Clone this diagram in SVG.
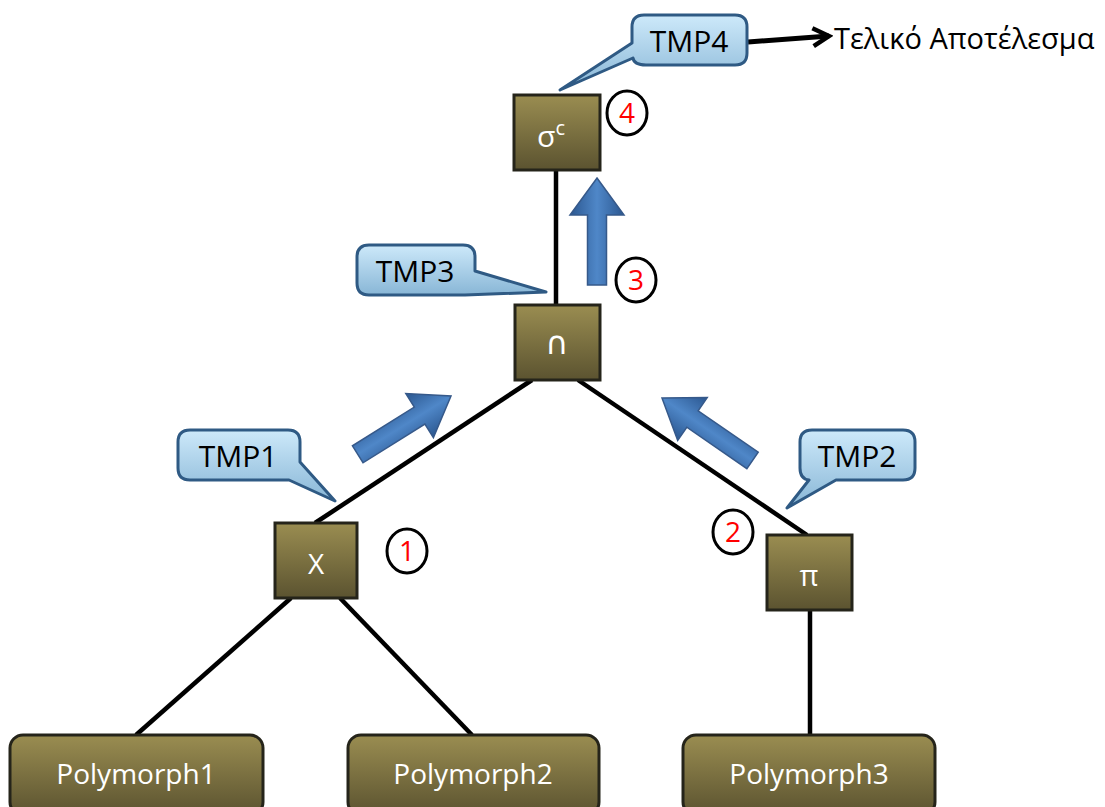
<svg xmlns="http://www.w3.org/2000/svg" width="1105" height="807" viewBox="0 0 1105 807">
<defs>
<linearGradient id="boxg" x1="0" y1="0" x2="0" y2="1">
<stop offset="0" stop-color="#9a8d51"/>
<stop offset="1" stop-color="#5b5330"/>
</linearGradient>
<linearGradient id="callg" x1="0" y1="0" x2="0" y2="1">
<stop offset="0" stop-color="#cde9fa"/>
<stop offset="1" stop-color="#88b6d6"/>
</linearGradient>
<linearGradient id="arrgh" x1="0" y1="0" x2="0" y2="1" gradientUnits="objectBoundingBox">
<stop offset="0" stop-color="#2b5790"/>
<stop offset="0.5" stop-color="#4f87c8"/>
<stop offset="1" stop-color="#2b5790"/>
</linearGradient>
<marker id="chev" viewBox="0 0 24 24" refX="20" refY="12" markerWidth="24" markerHeight="24" markerUnits="userSpaceOnUse" orient="auto">
<path d="M4,3 L20,12 L4,21" fill="none" stroke="#000" stroke-width="4.5" stroke-linejoin="miter"/>
</marker>
</defs>
<style>
.box{fill:url(#boxg);stroke:#25241a;stroke-width:3}
.bt{font-family:"Open Sans","DejaVu Sans",sans-serif;fill:#fff;text-anchor:middle}
.call{fill:url(#callg);stroke:#2f5a84;stroke-width:3;stroke-linejoin:round}
.ct{font-family:"Open Sans","DejaVu Sans",sans-serif;font-size:30px;fill:#000;text-anchor:middle}
.edge{stroke:#000;stroke-width:4.5;fill:none}
.num{fill:#fff;stroke:#000;stroke-width:3}
.nt{font-family:"Open Sans","DejaVu Sans",sans-serif;font-size:28px;fill:#f00;text-anchor:middle}
.barr{fill:url(#arrgh);stroke:#36598a;stroke-width:1.5}
</style>

<g id="connectors">
<line class="edge" x1="556" y1="170" x2="556" y2="305"/>
<line class="edge" x1="532" y1="380" x2="315" y2="523"/>
<line class="edge" x1="578" y1="380" x2="807" y2="535"/>
<line class="edge" x1="291" y1="598" x2="136" y2="735"/>
<line class="edge" x1="340" y1="598" x2="472" y2="735"/>
<line class="edge" x1="810" y1="610" x2="810" y2="735"/>
<line x1="748" y1="42" x2="829" y2="36" stroke="#000" stroke-width="5" marker-end="url(#chev)"/>
</g>

<g id="flow-arrows">
<polygon class="barr" transform="translate(597,178) rotate(90)" points="0,0 37,-27 37,-9.5 107,-9.5 107,9.5 37,9.5 37,27"/>
<polygon class="barr" transform="translate(451,396) rotate(148)" points="0,0 37,-26 37,-10 110,-10 110,10 37,10 37,26"/>
<polygon class="barr" transform="translate(662,398) rotate(34.6)" points="0,0 37,-26 37,-10 110,-10 110,10 37,10 37,26"/>
</g>

<g id="sigma">
<rect class="box" x="514" y="95" width="86" height="75"/>
<text class="bt" x="551" y="147" font-size="30">σ<tspan font-size="20" dy="-12">c</tspan></text>
</g>
<g id="intersect">
<rect class="box" x="515" y="305" width="85" height="75"/>
<text class="bt" x="557" y="354" font-size="32">∩</text>
</g>
<g id="cross">
<rect class="box" x="275" y="523" width="82" height="75"/>
<text class="bt" x="316" y="574" font-size="28">X</text>
</g>
<g id="pi">
<rect class="box" x="767" y="535" width="85" height="75"/>
<text class="bt" x="809" y="586" font-size="29">π</text>
</g>
<g id="polymorph1">
<rect class="box" x="10" y="735" width="253" height="80" rx="13"/>
<text class="bt" x="136" y="784" font-size="28">Polymorph1</text>
</g>
<g id="polymorph2">
<rect class="box" x="348" y="735" width="251" height="80" rx="13"/>
<text class="bt" x="473" y="784" font-size="28">Polymorph2</text>
</g>
<g id="polymorph3">
<rect class="box" x="683" y="735" width="252" height="80" rx="13"/>
<text class="bt" x="809" y="784" font-size="28">Polymorph3</text>
</g>

<g id="tmp4">
<path class="call" d="M644,15 H735 Q747,15 747,27 V53 Q747,65 735,65 H646 Q634,65 633,58 L560,90 L632,43 V27 Q632,15 644,15 Z"/>
<text class="ct" x="689" y="52">TMP4</text>
</g>
<g id="tmp3">
<path class="call" d="M369,245 H463 Q475,245 475,257 V271 L546,292 L465,295 H369 Q357,295 357,283 V257 Q357,245 369,245 Z"/>
<text class="ct" x="415" y="282">TMP3</text>
</g>
<g id="tmp1">
<path class="call" d="M190,430 H288 Q300,430 300,442 V462 L335,501 L289,480 H190 Q178,480 178,468 V442 Q178,430 190,430 Z"/>
<text class="ct" x="238" y="467">TMP1</text>
</g>
<g id="tmp2">
<path class="call" d="M812,430 H903 Q915,430 915,442 V468 Q915,480 903,480 H836 L787,508 L809,480 Q800,479 800,468 V442 Q800,430 812,430 Z"/>
<text class="ct" x="857" y="467">TMP2</text>
</g>

<g id="result">
<text x="834" y="49" font-family="'Open Sans','DejaVu Sans',sans-serif" font-size="29" fill="#000">Τελικό Αποτέλεσμα</text>
</g>

<g id="step1"><ellipse class="num" cx="407" cy="551" rx="20" ry="22"/><text class="nt" x="407" y="561">1</text></g>
<g id="step2"><ellipse class="num" cx="733" cy="532" rx="20" ry="22"/><text class="nt" x="733" y="542">2</text></g>
<g id="step3"><ellipse class="num" cx="636" cy="280" rx="20" ry="22"/><text class="nt" x="636" y="290">3</text></g>
<g id="step4"><ellipse class="num" cx="627" cy="113" rx="20" ry="22"/><text class="nt" x="627" y="123">4</text></g>
</svg>
